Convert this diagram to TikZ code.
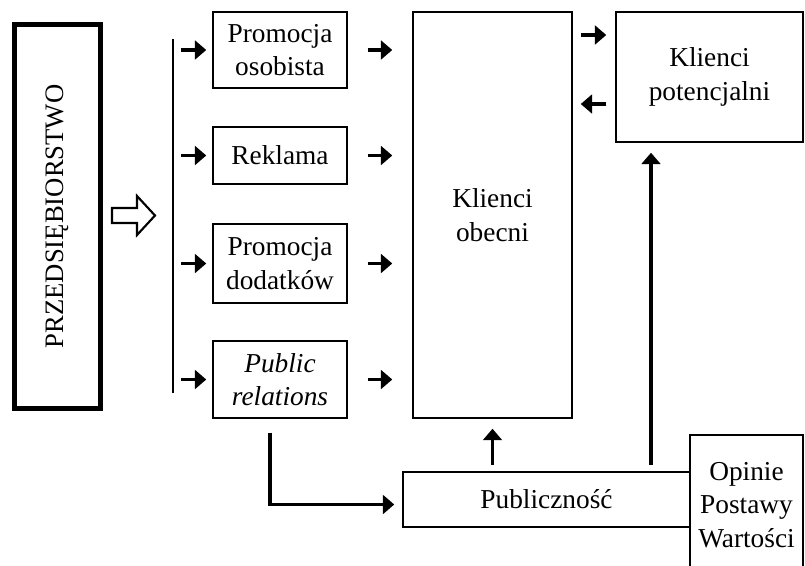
\documentclass[tikz,border=0pt]{standalone}
\usepackage{fontspec}
\setmainfont{Liberation Serif}
\usetikzlibrary{arrows.meta}
\begin{document}
\begin{tikzpicture}[x=0.75pt,y=-0.75pt,
  box/.style={draw, line width=1.1pt, align=center, inner sep=0pt,
    font=\fontsize{20.5}{25}\selectfont},
  arr/.style={line width=2.4pt, -{Triangle[length=8.5pt,width=14pt]}},
  thinarr/.style={line width=1.8pt, -{Triangle[length=8.5pt,width=14pt]}},
  link/.style={line width=2.2pt}]
\useasboundingbox (0,0) rectangle (805,565);

% the firm
\node[box, line width=3.8pt, minimum width=64.5pt, minimum height=288pt,
  font=\fontsize{20}{24}\selectfont] (firm) at (57.5,216.5)
  {\rotatebox{90}{PRZEDSIĘBIORSTWO}};

% hollow arrow towards the promotion tools
\draw[line width=1.6pt, line join=miter]
  (112,208) -- (137,208) -- (137,196) -- (155,215.5) -- (137,235) -- (137,223) -- (112,223) -- cycle;

% promotion tools
\node[box, minimum width=100.5pt, minimum height=57pt]    (p1) at (280,50)    {Promocja\\osobista};
\node[box, minimum width=100.5pt, minimum height=42.75pt] (p2) at (280,155.5) {Reklama};
\node[box, minimum width=100.5pt, minimum height=59.25pt] (p3) at (280,263.5) {Promocja\\dodatków};
\node[box, minimum width=100.5pt, minimum height=57.75pt] (p4) at (280,379.5) {\itshape Public\\\itshape relations};

% distribution bar
\coordinate (bartop) at (173,39);
\coordinate (barbot) at (173,393);
\draw[link] (bartop) -- (barbot);

% customers
\node[box, minimum width=119.25pt, minimum height=304.5pt] (ko) at (492.5,215) {Klienci\\obecni};
\node[box, minimum width=140.25pt, minimum height=97.5pt]  (kp) at (709.5,77)  {Klienci\\potencjalni};

% public and its views (the last box runs past the lower edge)
\node[box, minimum width=215.25pt, minimum height=41.25pt] (pub) at (546.5,499.5) {Publiczność};
\node[box, minimum width=84.75pt, minimum height=127.5pt] (op) at (746.5,520) {};
\node[box, draw=none] (optext) at (746.5,505) {Opinie\\Postawy\\Wartości};

% bar to tools, tools to current customers
\foreach \p in {p1,p2,p3,p4}{
  \draw[arr, shorten <=6pt, shorten >=4.5pt] (\p.west -| bartop) -- (\p.west);
  \draw[arr, shorten <=15pt, shorten >=15pt] (\p.east) -- (\p.east -| ko.west);
}

% between current and potential customers
\draw[arr, shorten <=6pt, shorten >=6.75pt] (ko.east |- 0,35) -- (kp.west |- 0,35);
\draw[arr, shorten <=6.75pt, shorten >=6pt] (kp.west |- 0,104) -- (ko.east |- 0,104);

% public relations reach the public
\draw[arr, shorten <=10.5pt, shorten >=6pt]
  ([xshift=-7.5pt]p4.south) |- ([yshift=-3.75pt]pub.west);

% the public feeds back to customers
\draw[thinarr, shorten <=5pt, shorten >=7.5pt] (pub.north -| ko.south) -- (ko.south);
\draw[arr, shorten <=5pt, shorten >=7.5pt] (pub.north -| 651,0) -- (kp.south -| 651,0);
\end{tikzpicture}
\end{document}
